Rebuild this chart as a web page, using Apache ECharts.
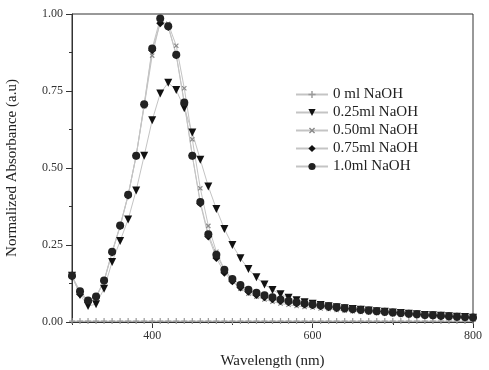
<!DOCTYPE html>
<html>
<head>
<meta charset="utf-8">
<script src="https://cdn.jsdelivr.net/npm/echarts@6/dist/echarts.min.js"></script>
<style>
html,body{margin:0;padding:0;background:#fff;}
#root{width:489px;height:370px;}
</style>
</head>
<body>
<div id="root"></div>
<script>
// wavelength (nm), every 10 nm
let wavelength = [];
for (let w = 300; w <= 800; w += 10) wavelength.push(w);

let seriesNames = ['0 ml NaOH', '0.25ml NaOH', '0.50ml NaOH', '0.75ml NaOH', '1.0ml NaOH'];

let s000 = [0.003,0.003,0.003,0.003,0.003,0.003,0.003,0.003,0.003,0.003,0.003,0.003,0.003,0.003,0.003,0.003,0.003,0.003,0.003,0.003,0.003,0.003,0.003,0.003,0.003,0.003,0.003,0.003,0.003,0.003,0.003,0.003,0.003,0.003,0.003,0.003,0.003,0.003,0.003,0.003,0.003,0.003,0.003,0.003,0.003,0.003,0.003,0.003,0.003,0.003,0.003];
let s025 = [0.150,0.088,0.052,0.058,0.108,0.195,0.263,0.333,0.427,0.540,0.655,0.742,0.777,0.753,0.694,0.615,0.527,0.440,0.367,0.302,0.250,0.207,0.172,0.145,0.122,0.104,0.090,0.079,0.071,0.064,0.059,0.055,0.051,0.048,0.045,0.042,0.040,0.037,0.035,0.033,0.031,0.029,0.027,0.025,0.023,0.022,0.020,0.019,0.017,0.016,0.014];
let s050 = [0.148,0.095,0.068,0.080,0.132,0.225,0.310,0.410,0.540,0.700,0.865,0.975,0.968,0.897,0.759,0.593,0.434,0.312,0.228,0.170,0.132,0.108,0.092,0.082,0.073,0.066,0.060,0.056,0.052,0.049,0.047,0.044,0.042,0.039,0.037,0.035,0.033,0.031,0.029,0.027,0.025,0.023,0.022,0.020,0.019,0.017,0.016,0.014,0.013,0.012,0.010];
let s075 = [0.148,0.090,0.068,0.080,0.133,0.226,0.312,0.411,0.540,0.705,0.882,0.970,0.958,0.866,0.710,0.540,0.385,0.278,0.208,0.160,0.132,0.112,0.098,0.088,0.080,0.074,0.068,0.064,0.060,0.057,0.054,0.051,0.048,0.045,0.043,0.040,0.038,0.036,0.034,0.032,0.030,0.028,0.026,0.024,0.022,0.021,0.019,0.018,0.016,0.015,0.014];
let s100 = [0.150,0.100,0.070,0.083,0.135,0.228,0.313,0.413,0.540,0.707,0.888,0.985,0.960,0.868,0.713,0.540,0.390,0.285,0.218,0.170,0.140,0.120,0.105,0.095,0.087,0.080,0.073,0.068,0.064,0.060,0.057,0.054,0.051,0.048,0.045,0.042,0.040,0.037,0.035,0.033,0.031,0.029,0.027,0.025,0.023,0.022,0.020,0.019,0.017,0.016,0.015];

let xLabels = [400, 600, 800];

let plusPath = 'path://M4,0H6V4H10V6H6V10H4V6H0V4H4Z';
let lineGray = '#c4c4c4';
let font = '"Liberation Serif", "DejaVu Serif", serif';

function pairs(arr) {
    return wavelength.map((w, i) => [w, arr[i]]);
}

function mk(name, arr, symbol, size, color, rotate) {
    return {
        name: name,
        type: 'line',
        xAxisIndex: 0,
        data: pairs(arr),
        symbol: symbol,
        symbolSize: size,
        symbolRotate: rotate || 0,
        showSymbol: true,
        lineStyle: { color: lineGray, width: 1 },
        itemStyle: { color: color, borderWidth: 0 },
        emphasis: { disabled: true },
        animation: false
    };
}

let root = document.getElementById('root');
let myCharts = echarts.init(root);
let option = {
    backgroundColor: '#fff',
    textStyle: { fontFamily: font },
    grid: {
        left: 72, right: 16, top: 14, bottom: 48,
        outerBoundsMode: 'none', containLabel: false,
        show: true, borderColor: '#333', borderWidth: 1
    },
    legend: {
        orient: 'vertical',
        left: 290, top: 82,
        itemWidth: 32, itemHeight: 9, itemGap: 3,
        textStyle: { fontFamily: font, fontSize: 15, color: '#222' },
        data: seriesNames
    },
    xAxis: [
        {
            type: 'value', min: 300, max: 800, interval: 100,
            name: 'Wavelength (nm)', nameLocation: 'middle', nameGap: 32,
            nameTextStyle: { fontFamily: font, fontSize: 15, color: '#222' },
            axisLine: { show: true, onZero: false, lineStyle: { color: '#333' } },
            axisTick: { show: true, length: 3, lineStyle: { color: '#333' } },
            axisLabel: {
                fontFamily: font, fontSize: 12, color: '#333', margin: 8,
                formatter: v => (xLabels.indexOf(v) >= 0 ? String(v) : '')
            },
            splitLine: { show: false }
        },
        {
            type: 'value', min: 300, max: 800, position: 'bottom',
            axisLine: { show: false },
            axisTick: { show: true, length: 6, customValues: xLabels, lineStyle: { color: '#333' } },
            axisLabel: { show: false },
            splitLine: { show: false }
        }
    ],
    yAxis: {
        type: 'value', min: 0, max: 1, interval: 0.25,
        name: 'Normalized Absorbance (a.u)', nameLocation: 'middle', nameGap: 52,
        nameTextStyle: { fontFamily: font, fontSize: 15, color: '#222' },
        axisLine: { show: true, lineStyle: { color: '#333' } },
        axisTick: { show: true, length: 6, lineStyle: { color: '#333' } },
        minorTick: { show: true, splitNumber: 2, length: 3, lineStyle: { color: '#333' } },
        axisLabel: {
            fontFamily: font, fontSize: 12, color: '#333', margin: 9,
            formatter: v => v.toFixed(2)
        },
        splitLine: { show: false }
    },
    series: [
        mk(seriesNames[0], s000, plusPath, 6, '#9a9a9a'),
        mk(seriesNames[1], s025, 'triangle', 8, '#111', 180),
        mk(seriesNames[2], s050, plusPath, 6, '#8a8a8a', 45),
        mk(seriesNames[3], s075, 'diamond', 8, '#111'),
        mk(seriesNames[4], s100, 'circle', 8, '#222')
    ]
};
myCharts.setOption(option);
</script>
</body>
</html>
